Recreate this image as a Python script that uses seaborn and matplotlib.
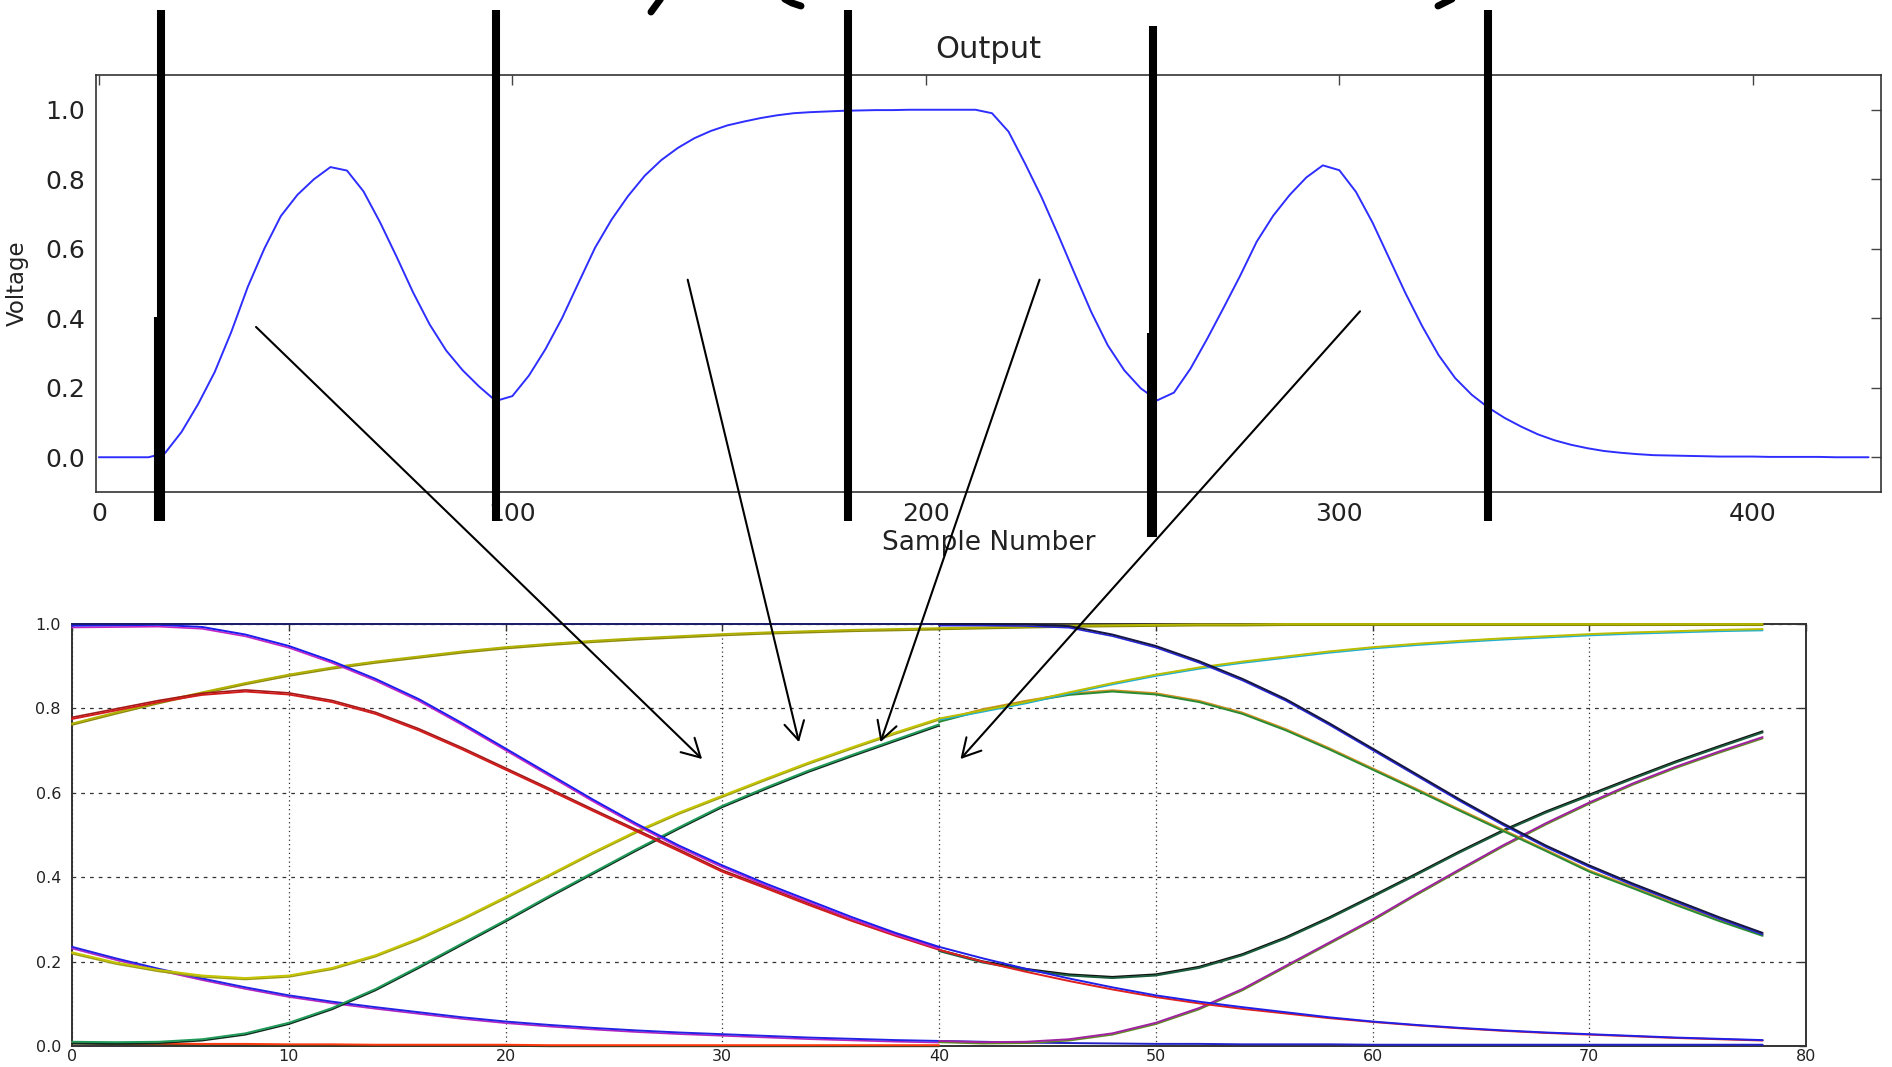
import numpy as np
import matplotlib
matplotlib.use("Agg")
import matplotlib.pyplot as plt
import matplotlib.transforms as mtransforms
from matplotlib.lines import Line2D
from matplotlib.patches import ConnectionPatch
import seaborn as sns

# ---------------- data ----------------
# Output trace (voltage per sample, every 4th sample)
sample_number = np.arange(0, 429, 4)
output_voltage = [
    0.000, 0.000, 0.000, 0.000, 0.012, 0.073, 0.153, 0.245, 0.360, 0.490,
    0.600, 0.694, 0.755, 0.800, 0.835, 0.825, 0.765, 0.676, 0.577, 0.474,
    0.382, 0.307, 0.250, 0.203, 0.162, 0.176, 0.235, 0.311, 0.400, 0.502,
    0.603, 0.684, 0.752, 0.810, 0.855, 0.890, 0.918, 0.939, 0.955, 0.966,
    0.976, 0.984, 0.990, 0.993, 0.995, 0.997, 0.998, 0.999, 0.999, 1.000,
    1.000, 1.000, 1.000, 1.000, 0.990, 0.937, 0.845, 0.748, 0.640, 0.528,
    0.418, 0.322, 0.250, 0.198, 0.164, 0.186, 0.255, 0.340, 0.430, 0.522,
    0.620, 0.695, 0.755, 0.805, 0.840, 0.826, 0.764, 0.676, 0.574, 0.472,
    0.378, 0.294, 0.228, 0.180, 0.143, 0.113, 0.088, 0.066, 0.049, 0.036,
    0.026, 0.018, 0.013, 0.009, 0.006, 0.005, 0.004, 0.003, 0.002, 0.002,
    0.002, 0.001, 0.001, 0.001, 0.001, 0.000, 0.000, 0.000,
]
# sample positions of the segment markers
segment_bounds = [14.9, 96.0, 181.1, 255.0, 335.9]

# Component curves, first half (x = 0..40) and second half (x = 40..78)
x_first = np.arange(0, 41, 2)
x_second = np.arange(40, 79, 2)

first_top = [0.999] * 21
first_fall = [0.996, 0.997, 0.998, 0.993, 0.975, 0.948, 0.912, 0.870, 0.822, 0.765,
              0.705, 0.645, 0.585, 0.528, 0.475, 0.428, 0.385, 0.345, 0.305, 0.268, 0.235]
first_hump = [0.775, 0.795, 0.815, 0.832, 0.840, 0.833, 0.815, 0.787, 0.748, 0.703,
              0.655, 0.607, 0.558, 0.510, 0.462, 0.413, 0.374, 0.334, 0.296, 0.261, 0.228]
first_saturate = [0.764, 0.790, 0.815, 0.838, 0.860, 0.880, 0.897, 0.911, 0.923, 0.935,
                  0.945, 0.953, 0.960, 0.966, 0.971, 0.976, 0.980, 0.983, 0.986, 0.988, 0.990]
first_dip_rise = [0.222, 0.198, 0.180, 0.167, 0.161, 0.167, 0.185, 0.215, 0.255, 0.302,
                  0.353, 0.405, 0.458, 0.508, 0.553, 0.593, 0.633, 0.672, 0.708, 0.743, 0.776]
first_rise = [0.010, 0.009, 0.010, 0.016, 0.030, 0.055, 0.090, 0.135, 0.188, 0.243,
              0.298, 0.355, 0.410, 0.465, 0.518, 0.569, 0.612, 0.653, 0.690, 0.726, 0.762]
first_tail = [0.235, 0.208, 0.183, 0.160, 0.139, 0.120, 0.105, 0.092, 0.080, 0.068,
              0.058, 0.050, 0.043, 0.037, 0.032, 0.028, 0.024, 0.020, 0.017, 0.014, 0.012]
first_floor = [0.008, 0.007, 0.006, 0.005, 0.005, 0.004, 0.004, 0.003, 0.003, 0.003,
               0.003, 0.002, 0.002, 0.002, 0.002, 0.002, 0.002, 0.002, 0.002, 0.002, 0.002]

second_fall = [1.000, 1.000, 0.999, 0.995, 0.975, 0.948, 0.912, 0.870, 0.822, 0.765,
               0.705, 0.645, 0.585, 0.528, 0.475, 0.428, 0.385, 0.345, 0.305, 0.268]
second_top = [0.990, 0.992, 0.994, 0.996, 0.997, 0.998, 0.999, 0.999, 1.000, 1.000,
              1.000, 1.000, 1.000, 1.000, 1.000, 1.000, 1.000, 1.000, 1.000, 1.000]
second_tail_a = [0.235, 0.208, 0.183, 0.160, 0.139, 0.120, 0.105, 0.092, 0.080, 0.068,
                 0.058, 0.050, 0.043, 0.037, 0.032, 0.028, 0.024, 0.020, 0.017, 0.014]
second_tail_b = [0.228, 0.200, 0.176, 0.154, 0.134, 0.116, 0.101, 0.088, 0.077, 0.066,
                 0.057, 0.049, 0.042, 0.036, 0.031, 0.027, 0.023, 0.019, 0.016, 0.013]
second_saturate = [0.776, 0.795, 0.815, 0.838, 0.860, 0.880, 0.897, 0.911, 0.923, 0.935,
                   0.945, 0.953, 0.960, 0.966, 0.971, 0.976, 0.980, 0.983, 0.986, 0.988]
second_hump = [0.768, 0.795, 0.815, 0.832, 0.840, 0.833, 0.815, 0.787, 0.748, 0.703,
               0.655, 0.607, 0.558, 0.510, 0.462, 0.413, 0.374, 0.334, 0.296, 0.261]
second_dip_rise = [0.225, 0.198, 0.180, 0.167, 0.161, 0.167, 0.185, 0.215, 0.255, 0.302,
                   0.353, 0.405, 0.458, 0.508, 0.553, 0.593, 0.633, 0.672, 0.708, 0.743]
second_rise = [0.012, 0.009, 0.010, 0.016, 0.030, 0.055, 0.090, 0.135, 0.190, 0.245,
               0.300, 0.360, 0.418, 0.475, 0.528, 0.577, 0.622, 0.662, 0.698, 0.732]
second_floor = [0.012, 0.010, 0.008, 0.007, 0.006, 0.005, 0.005, 0.004, 0.004, 0.004,
                0.003, 0.003, 0.003, 0.003, 0.003, 0.003, 0.003, 0.003, 0.003, 0.003]

top_xticks = [0, 100, 200, 300, 400]
top_yticks = [0.0, 0.2, 0.4, 0.6, 0.8, 1.0]
bottom_xticks = [0, 10, 20, 30, 40, 50, 60, 70, 80]
bottom_yticks = [0.0, 0.2, 0.4, 0.6, 0.8, 1.0]

# ---------------- style ----------------
sns.set_theme(style="white")
plt.rcParams["font.family"] = ["DejaVu Sans"]
plt.rcParams["axes.edgecolor"] = "#333333"
plt.rcParams["axes.linewidth"] = 1.2
plt.rcParams["lines.solid_joinstyle"] = "round"

W, H = 1892, 1067
fig = plt.figure(figsize=(W / 100, H / 100), dpi=100)
fig.patch.set_facecolor("white")

# ---------------- top panel: output trace ----------------
ax_top = fig.add_axes([96 / W, 1 - 492 / H, (1881 - 96) / W, (492 - 75) / H])
sns.lineplot(x=sample_number, y=output_voltage, ax=ax_top, color="#2e2eff",
             lw=1.4, estimator=None, sort=False)
ax_top.set_xlim(-0.7, 431)
ax_top.set_ylim(-0.1, 1.1)
ax_top.set_xticks(top_xticks)
ax_top.set_yticks(top_yticks)
ax_top.set_xticklabels([str(v) for v in top_xticks])
ax_top.set_yticklabels([f"{v:.1f}" for v in top_yticks])
ax_top.tick_params(direction="in", length=7, width=1, color="#444444",
                   top=True, right=True, labelsize=18, labelcolor="#222222")
ax_top.tick_params(axis="y", pad=8)
ax_top.tick_params(axis="x", pad=7)
ax_top.set_title("Output", fontsize=22, color="#222222", pad=12)
ax_top.set_xlabel("Sample Number", fontsize=19, color="#222222", labelpad=3)
ax_top.set_ylabel("Voltage", fontsize=16.5, color="#222222", labelpad=12)
for sp in ax_top.spines.values():
    sp.set_visible(True)
    sp.set_color("#333333")

# thick segment markers across the top panel
span = (492 - 75)
for i, xb in enumerate(segment_bounds):
    top_px = 26 if i == 3 else 10
    bot_px = 537 if i == 3 else 521
    ax_top.axvline(xb, ymin=(492 - bot_px) / span, ymax=(492 - top_px) / span,
                   color="black", lw=5.8, clip_on=False, zorder=6,
                   solid_capstyle="butt")
for xb, y0, y1 in [(segment_bounds[0] - 0.5, 317, 521), (segment_bounds[3] - 0.5, 333, 537)]:
    ax_top.axvline(xb, ymin=(492 - y1) / span, ymax=(492 - y0) / span,
                   color="black", lw=5.8, clip_on=False, zorder=6,
                   solid_capstyle="butt")

# ---------------- bottom panel: component curves ----------------
ax_bot = fig.add_axes([72 / W, 1 - 1046 / H, (1806 - 72) / W, (1046 - 624) / H])
ax_bot.set_xlim(0, 80)
ax_bot.set_ylim(0, 1)
ax_bot.set_axisbelow(True)
ax_bot.xaxis.grid(True, linestyle=(0, (1, 2.5)), color="#333333", lw=0.9)
ax_bot.yaxis.grid(True, linestyle=(0, (3, 4)), color="#333333", lw=0.9)


def draw_pair(x, y, color, partner=None, shift=-1.3):
    if partner is not None:
        tr = mtransforms.offset_copy(ax_bot.transData, fig=fig, x=0, y=shift, units="dots")
        ax_bot.plot(x, y, color=partner, lw=1.2, transform=tr, clip_on=False, zorder=3)
    sns.lineplot(x=x, y=y, ax=ax_bot, color=color, lw=1.4, estimator=None,
                 sort=False, clip_on=False, zorder=3)


draw_pair(x_first, first_floor, "#ff3a10", "#3a3a20", shift=-1.2)
draw_pair(x_first, first_tail, "#2323e6", "#b424c0", shift=-1.6)
draw_pair(x_first, first_rise, "#1f9a58", "#0e2a1c", shift=-1.4)
draw_pair(x_first, first_dip_rise, "#c4c400", "#9c9c18", shift=-1.4)
draw_pair(x_first, first_saturate, "#b0b000", "#8e8a10", shift=-1.4)
draw_pair(x_first, first_hump, "#d21c1c", "#a01818", shift=1.6)
draw_pair(x_first, first_fall, "#1c1cee", "#c424c4", shift=-1.8)
draw_pair(x_first, first_top, "#1d1d70")

draw_pair(x_second, second_floor, "#2222c8")
draw_pair(x_second, second_rise, "#a022a0", "#5e8a22", shift=-1.4)
draw_pair(x_second, second_dip_rise, "#1a5c3c", "#111111", shift=1.3)
draw_pair(x_second, second_tail_b, "#e02020")
draw_pair(x_second, second_tail_a, "#2020e8")
draw_pair(x_second, second_hump, "#2a8a34", "#d09020", shift=1.4)
draw_pair(x_second, second_saturate, "#bcbc00", "#22b0d0", shift=-1.4)
draw_pair(x_second, second_top, "#b4b400", "#8a8a00", shift=-1.2)
draw_pair(x_second, second_fall, "#151542", "#2626d8", shift=-1.6)

ax_bot.set_xticks(bottom_xticks)
ax_bot.set_yticks(bottom_yticks)
ax_bot.set_xticklabels([str(v) for v in bottom_xticks])
ax_bot.set_yticklabels([f"{v:.1f}" for v in bottom_yticks])
ax_bot.tick_params(direction="in", length=5, width=1, color="#333333",
                   top=True, right=True, labelsize=11.5, labelcolor="#222222")
ax_bot.tick_params(axis="y", pad=8)
ax_bot.tick_params(axis="x", pad=2)
for sp in ax_bot.spines.values():
    sp.set_visible(True)
    sp.set_color("#333333")
    sp.set_linewidth(1.4)
ax_bot.set_xlabel("")
ax_bot.set_ylabel("")

# ---------------- arrows linking output regions to components ----------------
arrow_links = [((38.0, 0.375), (29.07, 0.68)),
               ((142.4, 0.511), (33.54, 0.72)),
               ((227.5, 0.511), (37.3, 0.72)),
               ((305.0, 0.420), (40.99, 0.68))]
for start, end in arrow_links:
    con = ConnectionPatch(xyA=start, coordsA=ax_top.transData,
                          xyB=end, coordsB=ax_bot.transData,
                          arrowstyle="->,head_length=0.65,head_width=0.36",
                          mutation_scale=20, lw=1.5, color="black",
                          shrinkA=0, shrinkB=0, zorder=10)
    con.set_clip_on(False)
    fig.add_artist(con)

# handwritten strokes along the upper edge
for xs, ys in [([662, 651], [-3, 12]), ([781, 792, 801], [-3, 3, 6]), ([1456, 1438], [-3, 6])]:
    fig.add_artist(Line2D([v / W for v in xs], [1 - v / H for v in ys],
                          transform=fig.transFigure, color="black", lw=5,
                          solid_capstyle="round"))

fig.savefig("out.png", dpi=100, facecolor="white")
